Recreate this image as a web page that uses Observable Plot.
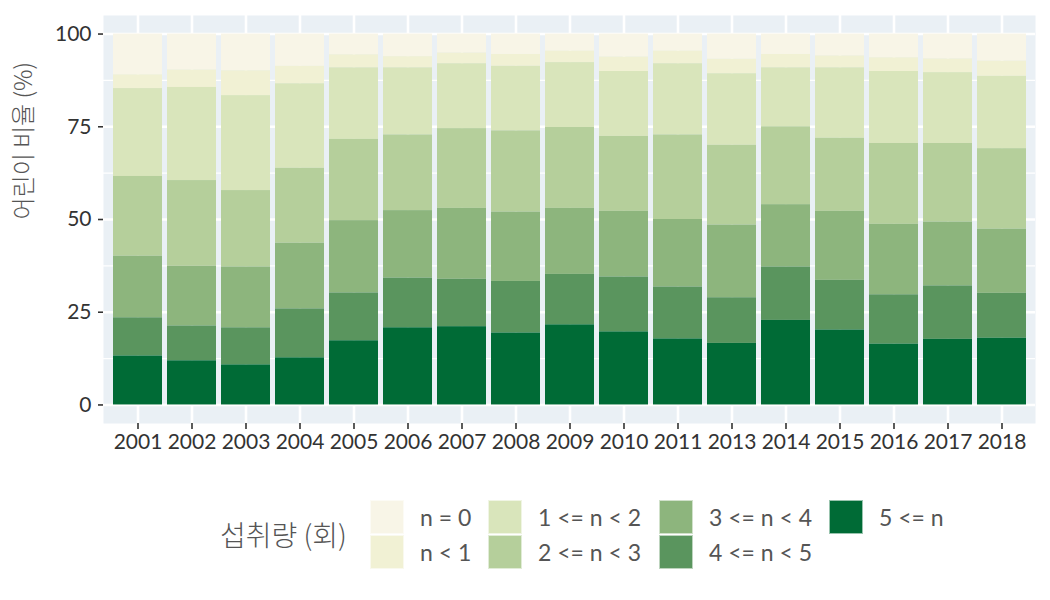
<!DOCTYPE html>
<html>
<head>
<meta charset="utf-8">
<script src="https://cdn.jsdelivr.net/npm/d3@7"></script>
<script src="https://cdn.jsdelivr.net/npm/@observablehq/plot@0.6"></script>
<style>
  body { margin: 0; background: #fff; font-family: Lato, "Noto Sans CJK KR", sans-serif; }
  #wrap { position: relative; width: 1050px; height: 600px; }
  #legend { position: absolute; top: 499px; left: 220px; display: flex; align-items: center; }
  #legend .ltitle { width: 150px; font-size: 28px; font-weight: 300; color: #555; font-family: "Noto Sans CJK KR", sans-serif; white-space: nowrap; }
  #legend .lgrid { display: grid; grid-auto-flow: column; grid-template-rows: 35px 35px; grid-template-columns: 118px 171px 170px auto; }
  #legend .item { display: flex; align-items: center; }
  #legend .sw { width: 34px; height: 34px; margin-right: 16px; box-sizing: border-box; border: 1px solid rgba(255,255,255,0.6); }
  #legend .lab { font-size: 23px; color: #555; font-family: Lato, sans-serif; white-space: nowrap; }
</style>
</head>
<body>
<div id="wrap">
  <div id="chart"></div>
  <div id="legend"></div>
</div>
<script>
// ---- data ----
const years = ["2001","2002","2003","2004","2005","2006","2007","2008","2009","2010","2011","2013","2014","2015","2016","2017","2018"];
const categories = ["n = 0", "n < 1", "1 <= n < 2", "2 <= n < 3", "3 <= n < 4", "4 <= n < 5", "5 <= n"];
const colors = ["#f8f5e7", "#f1f1d4", "#d9e5bb", "#b5cf9b", "#8db57d", "#5a955e", "#006b36"];

const n0    = [11.0, 9.7, 9.9, 8.7, 5.6, 6.1, 5.1, 5.5, 4.6, 6.2, 4.6, 6.8, 5.5, 5.9, 6.4, 6.7, 7.3];
const nLt1  = [3.7, 4.7, 6.7, 4.7, 3.5, 3.0, 2.9, 3.2, 3.1, 3.9, 3.4, 3.9, 3.6, 3.2, 3.7, 3.7, 4.1];
const n1to2 = [23.7, 25.1, 25.6, 22.8, 19.3, 18.1, 17.5, 17.4, 17.5, 17.5, 19.2, 19.3, 15.9, 19.0, 19.4, 19.1, 19.5];
const n2to3 = [21.5, 23.1, 20.6, 20.2, 21.9, 20.4, 21.5, 21.9, 21.8, 20.2, 22.8, 21.5, 21.0, 19.7, 21.8, 21.2, 21.7];
const n3to4 = [16.6, 16.1, 16.4, 17.7, 19.5, 18.2, 19.1, 18.7, 17.8, 17.7, 18.2, 19.6, 16.8, 18.6, 19.0, 17.2, 17.3];
const n4to5 = [10.3, 9.4, 10.0, 13.2, 12.9, 13.4, 12.8, 13.9, 13.6, 14.8, 14.0, 12.3, 14.4, 13.4, 13.3, 14.4, 12.1];
const n5up  = [13.2, 11.9, 10.8, 12.7, 17.3, 20.8, 21.1, 19.4, 21.6, 19.7, 17.8, 16.6, 22.8, 20.2, 16.4, 17.7, 18.0];

const yTicks = [0, 25, 50, 75, 100];
const yMinor = [12.5, 37.5, 62.5, 87.5];
const yTitle = "어린이 비율 (%)";
const legendTitle = "섭취량 (회)";

// ---- table ----
const series = [n0, nLt1, n1to2, n2to3, n3to4, n4to5, n5up];
const rows = [];
categories.forEach((c, ci) => years.forEach((yr, i) => rows.push({year: yr, cat: c, value: series[ci][i]})));
const stackOrder = categories.slice().reverse(); // bottom first

const font = 'Lato, "Noto Sans CJK KR", sans-serif';
const plot = Plot.plot({
  width: 1050,
  height: 465,
  marginLeft: 103,
  marginRight: 15,
  marginTop: 15,
  marginBottom: 42,
  style: {fontFamily: font, fontSize: "21px", background: "white", overflow: "visible"},
  x: {domain: years, paddingInner: 0.1, paddingOuter: 0.15, label: null},
  y: {domain: [-5, 105], label: null},
  color: {domain: categories, range: colors},
  marks: [
    Plot.frame({fill: "#eaf0f5", stroke: null}),
    Plot.ruleY(yMinor, {stroke: "white", strokeWidth: 1.3}),
    Plot.ruleY(yTicks, {stroke: "white", strokeWidth: 2.6}),
    Plot.ruleX(years, {stroke: "white", strokeWidth: 2.6}),
    Plot.barY(rows, {x: "year", y: "value", fill: "cat", order: stackOrder, inset: 0}),
    Plot.axisY(yTicks, {tickSize: 5, tickPadding: 7, strokeWidth: 1.6, color: "#333", fontSize: 21, label: null}),
    Plot.axisX({tickSize: 6, tickPadding: 5, strokeWidth: 1.6, color: "#333", fontSize: 21, label: null}),
    Plot.text([yTitle], {frameAnchor: "left", dx: -79, rotate: -90, fontSize: 24, fontWeight: 300, fill: "#555", fontFamily: '"Noto Sans CJK KR", sans-serif'})
  ]
});
document.getElementById("chart").appendChild(plot);

// ---- legend ----
const legend = d3.select("#legend");
legend.append("div").attr("class", "ltitle").text(legendTitle);
const grid = legend.append("div").attr("class", "lgrid");
categories.forEach((c, i) => {
  const item = grid.append("div").attr("class", "item");
  item.append("div").attr("class", "sw").style("background", colors[i]);
  item.append("div").attr("class", "lab").text(c);
});
</script>
</body>
</html>
